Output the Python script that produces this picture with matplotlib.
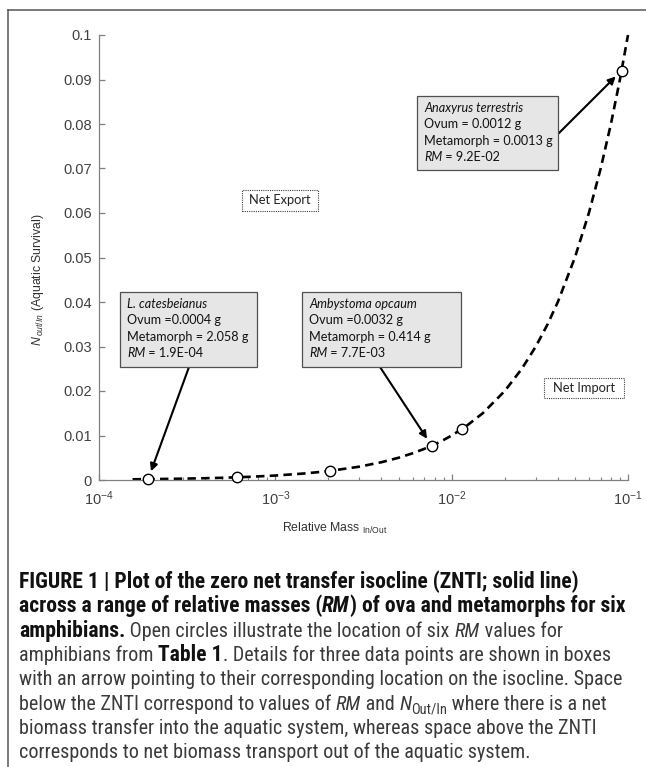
import numpy as np
import matplotlib
matplotlib.use("Agg")
from matplotlib import pyplot as plt
from matplotlib import ticker
from matplotlib.patches import Rectangle
from matplotlib.lines import Line2D
from matplotlib.font_manager import FontProperties

# data
isocline_rm = [1.55e-4, 2e-4, 3e-4, 4e-4, 5e-4, 7e-4, 1e-3, 1.5e-3, 2e-3, 3e-3, 4e-3,
               5e-3, 6e-3, 7e-3, 8e-3, 9e-3, 1e-2, 1.2e-2, 1.5e-2, 2e-2, 2.5e-2, 3e-2,
               3.5e-2, 4e-2, 5e-2, 6e-2, 7e-2, 8e-2, 9e-2, 1e-1]
isocline_n = [1.55e-4, 2e-4, 3e-4, 4e-4, 5e-4, 7e-4, 1e-3, 1.5e-3, 2e-3, 3e-3, 4e-3,
              5e-3, 6e-3, 7e-3, 8e-3, 9e-3, 1e-2, 1.2e-2, 1.5e-2, 2e-2, 2.5e-2, 3e-2,
              3.5e-2, 4e-2, 5e-2, 6e-2, 7e-2, 8e-2, 9e-2, 1e-1]
species_rm = [1.9e-4, 6.1e-4, 2.05e-3, 7.7e-3, 1.15e-2, 9.2e-2]
species_n = [1.9e-4, 6.1e-4, 2.05e-3, 7.7e-3, 1.15e-2, 9.2e-2]
y_ticks = [0, 0.01, 0.02, 0.03, 0.04, 0.05, 0.06, 0.07, 0.08, 0.09, 0.1]
x_ticks = [1e-4, 1e-3, 1e-2, 1e-1]

box_lines = {
    "cat": ["L. catesbeianus", "Ovum =0.0004 g", "Metamorph = 2.058 g", "= 1.9E-04"],
    "amb": ["Ambystoma opcaum", "Ovum =0.0032 g", "Metamorph = 0.414 g", "= 7.7E-03"],
    "ana": ["Anaxyrus terrestris", "Ovum = 0.0012 g", "Metamorph = 0.0013 g", "= 9.2E-02"],
}
box_point = {"cat": 0, "amb": 3, "ana": 5}

W, H = 646, 767
plt.rcParams["mathtext.fontset"] = "custom"
plt.rcParams["mathtext.rm"] = "Liberation Sans"
plt.rcParams["mathtext.it"] = "Liberation Sans:italic"
plt.rcParams["mathtext.bf"] = "Liberation Sans:bold"
plt.rcParams["font.family"] = ["Liberation Sans", "DejaVu Sans"]
plt.rcParams["axes.unicode_minus"] = False

fig = plt.figure(figsize=(W / 100, H / 100), dpi=100)
renderer = fig.canvas.get_renderer()


def fx(x):
    return x / W


def fy(y):
    return 1 - y / H


def seg_width(s, prop):
    w1 = renderer.get_text_width_height_descent("|" + s + "|", prop, ismath=False)[0]
    w0 = renderer.get_text_width_height_descent("||", prop, ismath=False)[0]
    return w1 - w0


def put_line(x, y, parts, size, family, color, bold_scale=1.0):
    # parts: (text, weight, style, size factor, baseline shift px)
    for s, weight, style, sf, dy in parts:
        if weight == "bold":
            sf = sf * bold_scale
        prop = FontProperties(family=family, weight=weight, style=style, size=size * sf)
        fig.text(fx(x), fy(y + dy), s, fontproperties=prop,
                 color=("#111111" if weight == "bold" else color),
                 ha="left", va="baseline", zorder=6)
        x += seg_width(s, prop)


# outer frame
fig.add_artist(Line2D([fx(8), fx(8)], [fy(10), fy(H + 10)], color="#555555", lw=1.1))
fig.add_artist(Line2D([fx(8), fx(W + 10)], [fy(10), fy(10)], color="#555555", lw=1.1))

ax = fig.add_axes([fx(99), fy(480), (628 - 99) / W, (480 - 35) / H])
ax.set_xscale("log")
ax.set_xlim(1e-4, 1e-1)
ax.set_ylim(0, 0.1)

ax.plot(isocline_rm, isocline_n, color="black", lw=1.9, linestyle=(0, (3.2, 2.0)),
        clip_on=False, zorder=2)
ax.plot(species_rm, species_n, "o", ms=7.5, mfc="white", mec="black", mew=1.0,
        clip_on=False, zorder=3)

for s in ["top", "right"]:
    ax.spines[s].set_visible(False)
for s in ["left", "bottom"]:
    ax.spines[s].set_color("#808080")
    ax.spines[s].set_linewidth(0.9)

ax.set_yticks(y_ticks)
ax.yaxis.set_major_formatter(ticker.FuncFormatter(lambda v, p: "%g" % v))
ax.set_xticks(x_ticks)
ax.xaxis.set_minor_locator(ticker.LogLocator(base=10, subs=np.arange(2, 10)))
ax.xaxis.set_minor_formatter(ticker.NullFormatter())
ax.tick_params(axis="both", which="major", direction="in", length=4, width=0.9,
               color="#808080", labelsize=10.5, labelcolor="#404040")
ax.tick_params(axis="x", which="minor", direction="in", length=2.5, width=0.8,
               color="#808080")
ax.tick_params(axis="y", pad=5)
ax.tick_params(axis="x", pad=7)

# axis labels
fig.text(fx(38), fy(280), r"$N_{\,out/In}$ (Aquatic Survival)", rotation=90,
         ha="center", va="center", fontsize=8.8, color="#303030")
fig.text(fx(282), fy(528), r"Relative Mass $_{\mathrm{In/Out}}$", ha="left",
         va="center", fontsize=8.8, color="#303030")

# region labels with dotted frames
for label, (x0, y0, x1, y1) in [("Net Export", (242, 190, 318, 211)),
                                ("Net Import", (544, 378, 624, 398))]:
    fig.add_artist(Rectangle((fx(x0), fy(y1)), fx(x1 - x0), (y1 - y0) / H,
                             fill=False, ec="#404040", lw=0.8, ls=(0, (1, 1))))
    fig.text(fx((x0 + x1) / 2), fy((y0 + y1) / 2), label, ha="center", va="center",
             fontsize=9.3, family="Lato", color="#222222")

# species boxes and arrows
box_pos = {"cat": (120, 292, 257, 367, 189, 367),
           "amb": (302, 292, 461, 367, 380, 367),
           "ana": (417, 96, 558, 170, 557, 135)}
for key, (x0, y0, x1, y1, ax0, ay0) in box_pos.items():
    fig.add_artist(Rectangle((fx(x0), fy(y1)), fx(x1 - x0), (y1 - y0) / H,
                             fc="#e6e6e6", ec="#505050", lw=0.9, zorder=4))
    lines = box_lines[key]
    tx = x0 + 7
    base = y0 + 16
    put_line(tx, base, [(lines[0], "normal", "italic", 1, 0)], 9.1, "Lato", "#111111")
    put_line(tx, base + 16.3, [(lines[1], "normal", "normal", 1, 0)], 9.1, "Lato", "#111111")
    put_line(tx, base + 32.6, [(lines[2], "normal", "normal", 1, 0)], 9.1, "Lato", "#111111")
    put_line(tx, base + 48.9, [("RM", "normal", "italic", 1, 0),
                               (" " + lines[3], "normal", "normal", 1, 0)],
             9.1, "Lato", "#111111")
    i = box_point[key]
    ax.annotate("", xy=(species_rm[i], species_n[i]), xycoords="data",
                xytext=(fx(ax0), fy(ay0)), textcoords="figure fraction",
                arrowprops=dict(arrowstyle="-|>", color="black", lw=1.5,
                                shrinkA=0, shrinkB=6, mutation_scale=11),
                annotation_clip=False, zorder=5)

# caption
B, I, N = "bold", "italic", "normal"
cap_lines = [
    [("FIGURE 1 | Plot of the zero net transfer isocline (ZNTI; solid line)", B, N, 1, 0)],
    [("across a range of relative masses (", B, N, 1, 0), ("RM", B, I, 1, 0),
     (") of ova and metamorphs for six", B, N, 1, 0)],
    [("amphibians.", B, N, 1, 0), (" Open circles illustrate the location of six ", N, N, 1, 0),
     ("RM", N, I, 1, 0), (" values for", N, N, 1, 0)],
    [("amphibians from ", N, N, 1, 0), ("Table 1", B, N, 1, 0),
     (". Details for three data points are shown in boxes", N, N, 1, 0)],
    [("with an arrow pointing to their corresponding location on the isocline. Space", N, N, 1, 0)],
    [("below the ZNTI correspond to values of ", N, N, 1, 0), ("RM", N, I, 1, 0),
     (" and ", N, N, 1, 0), ("N", N, I, 1, 0), ("Out/In", N, N, 0.72, 4),
     (" where there is a net", N, N, 1, 0)],
    [("biomass transfer into the aquatic system, whereas space above the ZNTI", N, N, 1, 0)],
    [("corresponds to net biomass transport out of the aquatic system.", N, N, 1, 0)],
]
for k, parts in enumerate(cap_lines):
    put_line(19, 588 + k * 24.3, parts, 14.5,
             ["Roboto Condensed", "Liberation Sans"], "#3a3a3a", bold_scale=1.075)

fig.savefig("out.png", dpi=100)
